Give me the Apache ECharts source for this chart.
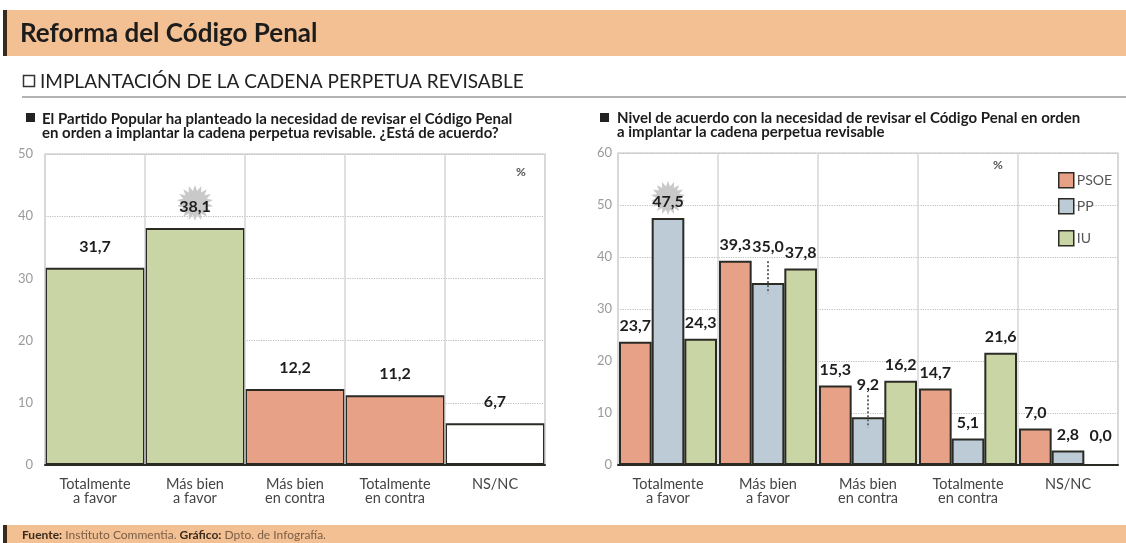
<!DOCTYPE html>
<html><head><meta charset="utf-8">
<script src="https://cdn.jsdelivr.net/npm/echarts@6/dist/echarts.min.js"></script>
<style>html,body{margin:0;padding:0;background:#fff}#c{width:1126px;height:543px}</style>
</head><body><div id="c"></div>
<script>
// ---- data ----
const categories = ['Totalmente\na favor', 'Más bien\na favor', 'Más bien\nen contra', 'Totalmente\nen contra', 'NS/NC'];
const totalValues = [31.7, 38.1, 12.2, 11.2, 6.7];
const psoeValues = [23.7, 39.3, 15.3, 14.7, 7.0];
const ppValues = [47.5, 35.0, 9.2, 5.1, 2.8];
const iuValues = [24.3, 37.8, 16.2, 21.6, 0.0];
const leftTicks = [0, 10, 20, 30, 40, 50];
const rightTicks = [0, 10, 20, 30, 40, 50, 60];
const seriesNames = ['PSOE', 'PP', 'IU'];

// ---- style ----
const FONT = 'Lato';
const ORANGE = '#f3c093';
const DARK = '#2b2a24';
const GREEN = '#c9d5a4';
const SALMON = '#e7a187';
const BLUE = '#bdcbd6';
const leftColors = [GREEN, GREEN, SALMON, SALMON, '#ffffff'];
const psoeDist = [8, 8, 8, 8, 8];
const ppDist = [8, 28, 24, 8, 8];
const iuDist = [8, 8, 8, 8, 20];

const fmt = p => Number(p.value).toFixed(1).replace('.', ',');

function starPath(n, r1, r2) {
  let d = '';
  for (let i = 0; i < 2 * n; i++) {
    const r = i % 2 ? r2 : r1;
    const a = Math.PI * i / n - Math.PI / 2;
    d += (i ? 'L' : 'M') + (50 + r * Math.cos(a)).toFixed(2) + ' ' + (50 + r * Math.sin(a)).toFixed(2);
  }
  return 'path://' + d + 'Z';
}
const STAR = starPath(18, 50, 34);

const labelStyle = {
  show: true, position: 'top', formatter: fmt,
  fontFamily: FONT, fontWeight: 'bold', fontSize: 16, color: '#1e1e1e'
};

function xAxisFor(grid) {
  return {
    type: 'category', gridIndex: grid, data: categories,
    axisLine: { show: true, lineStyle: { color: DARK, width: 2 } },
    axisTick: { show: false },
    axisLabel: { interval: 0, fontFamily: FONT, fontSize: 14.5, lineHeight: 14, color: '#444', margin: 12 },
    splitLine: { show: true, interval: 0, lineStyle: { color: '#d6d6d6', width: 1.5 } },
    z: 3
  };
}
function yAxisFor(grid, ticks, margin) {
  return {
    type: 'value', gridIndex: grid, min: ticks[0], max: ticks[ticks.length - 1], interval: ticks[1] - ticks[0],
    axisLine: { show: false }, axisTick: { show: false },
    axisLabel: { fontFamily: FONT, fontSize: 13, color: '#9a9a9a', margin: margin },
    splitLine: { show: true, lineStyle: { color: '#bdbdbd', type: 'dotted', width: 1.2 } }
  };
}

function withDist(values, dists) {
  return values.map((v, i) => ({ value: v, label: { distance: dists[i] } }));
}

const legendBase = {
  orient: 'vertical', itemWidth: 15, itemHeight: 15, left: 1053, icon: 'rect',
  itemStyle: { borderWidth: 1.5 },
  textStyle: { fontFamily: FONT, fontSize: 14, color: '#555', padding: [0, 0, 0, -2] }
};

const option = {
  animation: false,
  backgroundColor: '#ffffff',
  grid: [
    { left: 45, right: 1126 - 545, top: 154, bottom: 78, show: true, borderColor: '#d6d6d6', borderWidth: 1.5 },
    { left: 618, right: 1126 - 1118, top: 153, bottom: 78, show: true, borderColor: '#d6d6d6', borderWidth: 1.5 }
  ],
  xAxis: [xAxisFor(0), xAxisFor(1)],
  yAxis: [yAxisFor(0, leftTicks, 12), yAxisFor(1, rightTicks, 6)],
  legend: [
    Object.assign({}, legendBase, { data: [seriesNames[0]], top: 167 }),
    Object.assign({}, legendBase, { data: [seriesNames[1]], top: 193 }),
    Object.assign({}, legendBase, { data: [seriesNames[2]], top: 225 })
  ],
  series: [
    {
      type: 'bar', name: 'Total', xAxisIndex: 0, yAxisIndex: 0,
      barCategoryGap: '0%',
      data: totalValues.map((v, i) => ({ value: v, itemStyle: { color: leftColors[i] } })),
      itemStyle: { borderColor: DARK, borderWidth: 2 },
      label: Object.assign({}, labelStyle, { distance: 13 }),
      markPoint: {
        z: 1, silent: true, symbol: STAR, symbolSize: 36, symbolOffset: [0, -25],
        itemStyle: { color: '#c9c9c9' }, label: { show: false },
        data: [{ coord: [1, totalValues[1]] }]
      }
    },
    {
      type: 'bar', name: seriesNames[0], xAxisIndex: 1, yAxisIndex: 1,
      barGap: '0%', barCategoryGap: '2%',
      data: withDist(psoeValues, psoeDist),
      itemStyle: { color: SALMON, borderColor: DARK, borderWidth: 2 },
      label: labelStyle
    },
    {
      type: 'bar', name: seriesNames[1], xAxisIndex: 1, yAxisIndex: 1,
      barGap: '0%', barCategoryGap: '2%',
      data: withDist(ppValues, ppDist),
      itemStyle: { color: BLUE, borderColor: DARK, borderWidth: 2 },
      label: labelStyle,
      markPoint: {
        z: 1, silent: true, symbol: STAR, symbolSize: 34, symbolOffset: [0, -20],
        itemStyle: { color: '#c9c9c9' }, label: { show: false },
        data: [{ coord: [0, ppValues[0]] }]
      },
      markLine: {
        silent: true, symbol: 'none', label: { show: false }, z: 3,
        lineStyle: { type: 'dotted', color: '#6a6a6a', width: 2 },
        data: [1, 2].map(i => [{ coord: [i, ppValues[i] + 4.2] }, { coord: [i, ppValues[i] - 2] }])
      }
    },
    {
      type: 'bar', name: seriesNames[2], xAxisIndex: 1, yAxisIndex: 1,
      barGap: '0%', barCategoryGap: '2%',
      data: withDist(iuValues, iuDist),
      itemStyle: { color: GREEN, borderColor: DARK, borderWidth: 2 },
      label: labelStyle
    }
  ],
  graphic: [
    { type: 'rect', shape: { x: 3, y: 10, width: 1123, height: 46 }, style: { fill: ORANGE } },
    { type: 'rect', shape: { x: 3, y: 10, width: 4, height: 46 }, style: { fill: '#3a2a1c' } },
    { type: 'text', x: 20, y: 34, style: { text: 'Reforma del Código Penal', font: 'bold 26px Lato', fill: '#1c1c1c', verticalAlign: 'middle' } },
    { type: 'rect', shape: { x: 23.5, y: 75.5, width: 11, height: 11 }, style: { fill: 'none', stroke: '#333', lineWidth: 1.5 } },
    { type: 'text', x: 40, y: 82, style: { text: 'IMPLANTACIÓN DE LA CADENA PERPETUA REVISABLE', font: '19px Lato', fill: '#222', verticalAlign: 'middle' } },
    { type: 'line', shape: { x1: 22, y1: 97, x2: 1126, y2: 97 }, style: { stroke: '#9a9a9a', lineWidth: 1.5 } },
    { type: 'rect', shape: { x: 26, y: 113, width: 9, height: 9 }, style: { fill: '#222' } },
    { type: 'text', x: 42, y: 119, style: { text: 'El Partido Popular ha planteado la necesidad de revisar el Código Penal', font: 'bold 15px Lato', fill: '#1c1c1c', verticalAlign: 'middle' } },
    { type: 'text', x: 42, y: 133, style: { text: 'en orden a implantar la cadena perpetua revisable. ¿Está de acuerdo?', font: 'bold 15px Lato', fill: '#1c1c1c', verticalAlign: 'middle' } },
    { type: 'rect', shape: { x: 600, y: 113, width: 9, height: 9 }, style: { fill: '#222' } },
    { type: 'text', x: 617, y: 118, style: { text: 'Nivel de acuerdo con la necesidad de revisar el Código Penal en orden', font: 'bold 15px Lato', fill: '#1c1c1c', verticalAlign: 'middle' } },
    { type: 'text', x: 617, y: 132, style: { text: 'a implantar la cadena perpetua revisable', font: 'bold 15px Lato', fill: '#1c1c1c', verticalAlign: 'middle' } },
    { type: 'text', x: 521, y: 172, style: { text: '%', font: 'bold 12px Lato', fill: '#555', align: 'center', verticalAlign: 'middle' } },
    { type: 'text', x: 998, y: 165, style: { text: '%', font: 'bold 12px Lato', fill: '#555', align: 'center', verticalAlign: 'middle' } },
    { type: 'rect', shape: { x: 3, y: 525, width: 1123, height: 18 }, style: { fill: ORANGE } },
    { type: 'rect', shape: { x: 3, y: 525, width: 4, height: 18 }, style: { fill: '#3a2a1c' } },
    { type: 'text', x: 22, y: 535, style: {
        text: '{b|Fuente:}{n| Instituto Commentia. }{b|Gráfico:}{n| Dpto. de Infografía.}',
        verticalAlign: 'middle',
        rich: { b: { fontFamily: FONT, fontWeight: 'bold', fontSize: 12, fill: '#3a2a1c' }, n: { fontFamily: FONT, fontSize: 12, fill: '#7a5e48' } }
      } }
  ]
};

const chart = echarts.init(document.getElementById('c'), null, { renderer: 'canvas' });
chart.setOption(option);
</script>
</body></html>
